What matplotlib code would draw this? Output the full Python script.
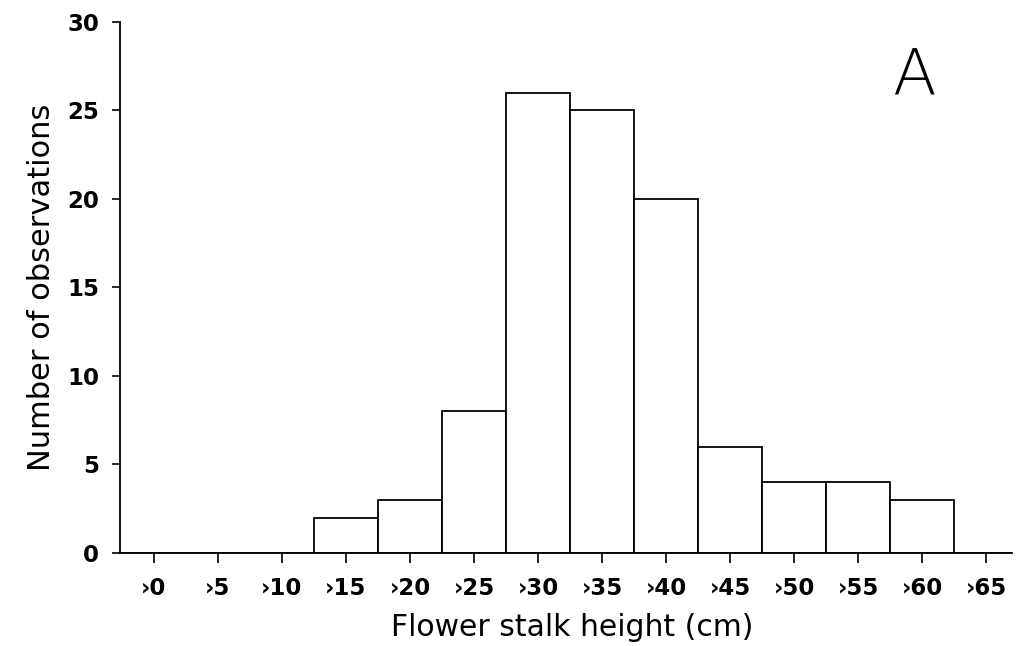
import matplotlib
matplotlib.use("Agg")
import matplotlib.pyplot as plt
import numpy as np

categories = ["\u203a0", "\u203a5", "\u203a10", "\u203a15", "\u203a20", "\u203a25", "\u203a30",
              "\u203a35", "\u203a40", "\u203a45", "\u203a50", "\u203a55", "\u203a60", "\u203a65"]
counts = [0, 0, 0, 2, 3, 8, 26, 25, 20, 6, 4, 4, 3, 0]
y_ticks = [0, 5, 10, 15, 20, 25, 30]

plt.rcParams['font.family'] = ['DejaVu Sans']

fig = plt.figure(figsize=(10.18, 6.46), dpi=100)
ax = fig.add_axes([0.1179, 0.144, 0.876, 0.822])

x = np.arange(len(categories))
ax.bar(x, counts, width=1.0, facecolor="white", edgecolor="black", linewidth=1.3)

ax.set_xlim(-0.53, 13.4)
ax.set_ylim(0, 30)
ax.set_xticks(x)
ax.set_xticklabels(categories, fontsize=16.5, fontweight="bold")
ax.set_yticks(y_ticks)
ax.set_yticklabels([str(v) for v in y_ticks], fontsize=16.5, fontweight="bold")

for s in ["top", "right"]:
    ax.spines[s].set_visible(False)
for s in ["left", "bottom"]:
    ax.spines[s].set_linewidth(1.3)

ax.tick_params(axis="x", direction="out", length=7.5, width=1.2, pad=10)
ax.tick_params(axis="y", direction="out", length=6, width=1.2, pad=9)

fig.text(0.562, 0.028, "Flower stalk height (cm)", fontsize=21.5, ha="center", va="center")
ax.set_ylabel("Number of observations", fontsize=22, labelpad=8)

ax.text(0.89, 0.896, "A", transform=ax.transAxes, fontsize=46, ha="center", va="center",
        fontweight="light")

fig.savefig("out.png", dpi=100)
